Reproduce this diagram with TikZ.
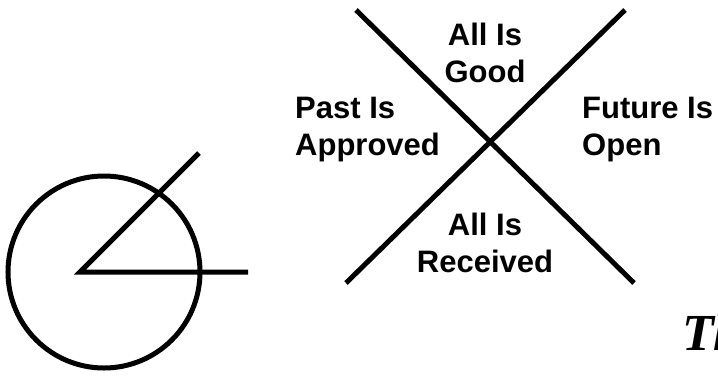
\documentclass[tikz,border=0pt]{standalone}
\usepackage{fontspec}
\setmainfont{Liberation Sans}
\newfontfamily\serifbig{Liberation Serif}
\usetikzlibrary{positioning}

\begin{document}
\begin{tikzpicture}[
 x=1bp,y=-1bp,
 stroke/.style={line width=5bp},
 lbl/.style={font=\fontsize{31bp}{36.5bp}\selectfont\bfseries,inner sep=0pt},
 banner/.style={font=\fontsize{52bp}{60bp}\selectfont\serifbig\bfseries\itshape,
   inner sep=0pt,anchor=base west}
]
\useasboundingbox (0,0) rectangle (718,376);
\coordinate (vertex) at (80,272);
\coordinate (hend) at (248,272);
\coordinate (dend) at (199,153);
\coordinate (hub) at (104,272);
\draw[stroke] (hub) circle[radius=96];
\draw[stroke] (hend) -- (vertex) -- (dend);
\coordinate (nw) at (356,10);
\coordinate (se) at (634,283);
\coordinate (ne) at (625,10);
\coordinate (sw) at (346,283);
\draw[stroke] (nw) -- (se);
\draw[stroke] (ne) -- (sw);
\node[lbl,align=center,anchor=base] (good) at (485,82) {All Is\\Good};
\node[lbl,align=left,anchor=base west] (past) at (295,155) {Past Is\\Approved};
\node[lbl,align=left,anchor=base west] (future) at (582,155) {Future Is\\Open};
\node[lbl,align=center,anchor=base] (received) at (485,272) {All Is\\Received};
\node[banner] (title) at (682,350) {Th};
\end{tikzpicture}
\end{document}
